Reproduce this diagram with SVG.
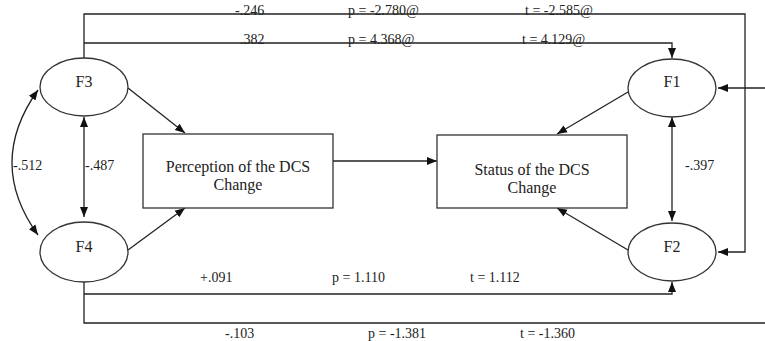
<svg xmlns="http://www.w3.org/2000/svg" width="765" height="341" viewBox="0 0 765 341">
<style>
.n{fill:#fff;stroke:#333;stroke-width:1.3}
.c{fill:none;stroke:#222;stroke-width:1.3}
.t{font-family:"Liberation Serif","Times New Roman",serif;fill:#222}
.lab{font-size:16px;text-anchor:middle}
.num{font-size:14px}
</style>
<defs>
<marker id="a" viewBox="0 0 10 10" refX="10" refY="5" markerWidth="10" markerHeight="10" markerUnits="userSpaceOnUse" orient="auto-start-reverse">
<path d="M0 1 L10 5 L0 9 Z" fill="#111"/>
</marker>
</defs>
<rect width="765" height="341" fill="#fff"/>
<g id="labels" class="t num">
<text x="235" y="15">-.246</text>
<text x="348" y="15">p = -2.780@</text>
<text x="525" y="15">t = -2.585@</text>
<text x="240" y="44">.382</text>
<text x="348" y="44">p = 4.368@</text>
<text x="522" y="44">t = 4.129@</text>
<text x="200" y="282">+.091</text>
<text x="332" y="282">p = 1.110</text>
<text x="470" y="282">t = 1.112</text>
<text x="225" y="338">-.103</text>
<text x="368" y="338">p = -1.381</text>
<text x="520" y="338">t = -1.360</text>
<text x="13" y="170">-.512</text>
<text x="85" y="170">-.487</text>
<text x="685" y="170">-.397</text>
</g>
<g id="connectors" class="c">
<path d="M84 58 V14 H745 V252 H718" marker-end="url(#a)"/>
<path d="M84 43 H672 V58" marker-end="url(#a)"/>
<path d="M765 88 H718" marker-end="url(#a)"/>
<path d="M84 282 V323 H765"/>
<path d="M84 294 H672 V282" marker-end="url(#a)"/>
<path d="M128 88 L185 133" marker-end="url(#a)"/>
<path d="M128 250 L185 208" marker-end="url(#a)"/>
<path d="M628 92 L557 134" marker-end="url(#a)"/>
<path d="M628 250 L557 208" marker-end="url(#a)"/>
<path d="M333 161 H437" marker-end="url(#a)"/>
<path d="M84 117 V217" marker-start="url(#a)" marker-end="url(#a)"/>
<path d="M672 117 V221" marker-start="url(#a)" marker-end="url(#a)"/>
<path d="M38 90 Q-14 163 38 235" marker-start="url(#a)" marker-end="url(#a)"/>
</g>
<g id="F3"><ellipse class="n" cx="84" cy="87" rx="44" ry="29"/><text class="t lab" x="84" y="87">F3</text></g>
<g id="F4"><ellipse class="n" cx="84" cy="252" rx="44" ry="30"/><text class="t lab" x="84" y="252">F4</text></g>
<g id="F1"><ellipse class="n" cx="672" cy="88" rx="44" ry="29"/><text class="t lab" x="672" y="87">F1</text></g>
<g id="F2"><ellipse class="n" cx="672" cy="252" rx="44" ry="29"/><text class="t lab" x="672" y="252">F2</text></g>
<g id="perception"><rect class="n" x="143" y="134" width="190" height="74"/><text class="t lab" x="238" y="172">Perception of the DCS</text><text class="t lab" x="238" y="190">Change</text></g>
<g id="status"><rect class="n" x="437" y="135" width="190" height="73"/><text class="t lab" x="532" y="175">Status of the DCS</text><text class="t lab" x="532" y="193">Change</text></g>
</svg>
